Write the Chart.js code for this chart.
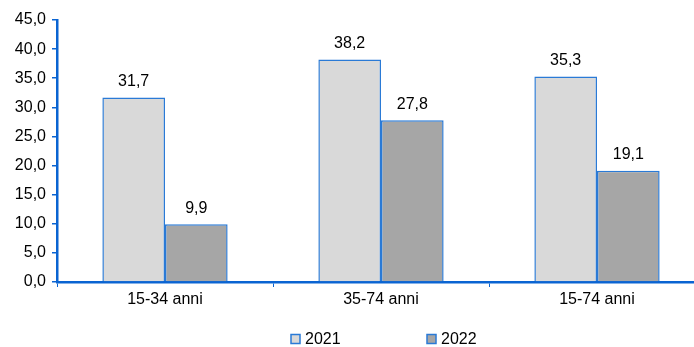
<!DOCTYPE html>
<html>
<head>
<meta charset="utf-8">
<script src="https://cdn.jsdelivr.net/npm/chart.js@4/dist/chart.umd.min.js"></script>
<style>
html,body{margin:0;padding:0;background:#fff;overflow:hidden;}
#wrap{width:694px;height:347px;position:relative;overflow:hidden;}
canvas{display:block;}
</style>
</head>
<body>
<div id="wrap"><canvas id="c" width="705" height="347"></canvas></div>
<script>
const categories = ["15-34 anni", "35-74 anni", "15-74 anni"];
const seriesNames = ["2021", "2022"];
const values2021 = [31.7, 38.2, 35.3];
const values2022 = [9.9, 27.8, 19.1];
const yMin = 0, yMax = 45, yStep = 5;

const AXIS = '#0a64d2';
const BORDER = '#2a7ad6';
const FONT = '"Liberation Sans", Arial, sans-serif';
const fmt = v => v.toFixed(1).replace('.', ',');

const labelPlugin = {
  id: 'valueLabels',
  afterDatasetsDraw(chart) {
    const ctx = chart.ctx;
    ctx.save();
    ctx.font = '16px ' + FONT;
    ctx.fillStyle = '#000';
    ctx.textAlign = 'center';
    ctx.textBaseline = 'bottom';
    chart.data.datasets.forEach((ds, i) => {
      const meta = chart.getDatasetMeta(i);
      meta.data.forEach((bar, j) => {
        ctx.fillText(fmt(ds.data[j]), bar.x, bar.y - 8);
      });
    });
    ctx.restore();
  }
};

const legendPlugin = {
  id: 'customLegend',
  afterDraw(chart) {
    const ctx = chart.ctx;
    ctx.save();
    ctx.font = '16px ' + FONT;
    ctx.textBaseline = 'middle';
    ctx.textAlign = 'left';
    const xs = [291, 427];
    const y = 339;
    chart.data.datasets.forEach((ds, i) => {
      const x = xs[i];
      ctx.fillStyle = ds.backgroundColor;
      ctx.fillRect(x, y - 4.5, 9, 9);
      ctx.strokeStyle = BORDER;
      ctx.lineWidth = 1.5;
      ctx.strokeRect(x, y - 4.5, 9, 9);
      ctx.fillStyle = '#000';
      ctx.fillText(ds.label, x + 14, y + 1);
    });
    ctx.restore();
  }
};

new Chart(document.getElementById('c'), {
  type: 'bar',
  data: {
    labels: categories,
    datasets: [
      { label: seriesNames[0], data: values2021, backgroundColor: '#d9d9d9', borderColor: BORDER, borderWidth: 1.5 },
      { label: seriesNames[1], data: values2022, backgroundColor: '#a6a6a6', borderColor: BORDER, borderWidth: 1.5 }
    ]
  },
  options: {
    responsive: false,
    animation: false,
    devicePixelRatio: 1,
    layout: { padding: { top: 20, right: 0, bottom: 35, left: 0 } },
    datasets: { bar: { categoryPercentage: 0.58, barPercentage: 1.0 } },
    plugins: { legend: { display: false }, tooltip: { enabled: false } },
    scales: {
      x: {
        offset: true,
        grid: { offset: true, drawOnChartArea: false, drawTicks: true, tickLength: 5, color: AXIS, lineWidth: 1 },
        border: { color: AXIS, width: 2.5 },
        ticks: { font: { family: FONT, size: 16 }, color: '#000', padding: 3, maxRotation: 0 },
        afterFit(s) { s.height = 30; }
      },
      y: {
        min: yMin, max: yMax,
        grid: { drawOnChartArea: false, drawTicks: true, tickLength: 5, color: AXIS, lineWidth: 1.5 },
        border: { color: AXIS, width: 2.5 },
        ticks: { stepSize: yStep, font: { family: FONT, size: 16 }, color: '#000', padding: 6, callback: v => fmt(v) },
        afterFit(s) { s.width = 57; }
      }
    }
  },
  plugins: [labelPlugin, legendPlugin]
});
</script>
</body>
</html>
